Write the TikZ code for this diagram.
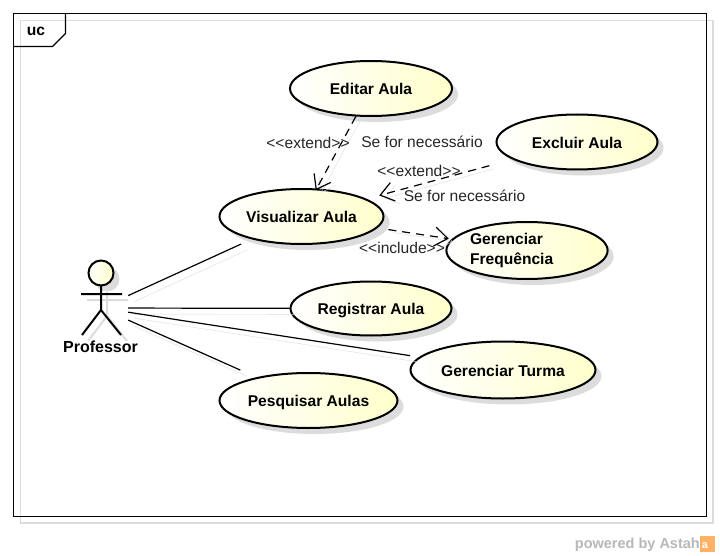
\documentclass[tikz,border=0pt]{standalone}
\usepackage{fontspec}
\setmainfont{Liberation Sans}
\usetikzlibrary{arrows.meta,shapes.geometric,shadows}
\definecolor{ucyellow}{HTML}{FFFFCC}
\definecolor{ucshadow}{HTML}{DCDCDC}
\tikzset{
  usecase/.style={ellipse,draw=black,line width=2pt,inner sep=0pt,left color=white,right color=ucyellow,
    font=\fontsize{15.6}{20}\selectfont\bfseries,text height=12.5pt,text depth=0pt,
    drop shadow={shadow xshift=6pt,shadow yshift=-6pt,fill=ucshadow,opacity=1}},
  steplabel/.style={font=\fontsize{15.6}{17}\selectfont,inner sep=0pt,text=black!85},
  assoc/.style={line width=1.2pt,preaction={draw=ucshadow,transform canvas={shift={(6pt,-6pt)}}}},
  relation/.style={line width=1.2pt,dash pattern=on 8pt off 6pt,-{Straight Barb[length=13pt,width=19pt,line width=1.2pt]},
    preaction={draw=ucshadow,solid,transform canvas={shift={(5pt,-3pt)}}}},
}
\begin{document}
\begin{tikzpicture}[x=1pt,y=-1pt]
\useasboundingbox (0,0) rectangle (720,556);
\fill[white] (0,0) rectangle (720,556);
% frame
\draw[ucshadow,line width=1.2pt] (20.5,20.5) rectangle (713,523);
\draw[line width=1.2pt] (13.5,13.5) rectangle (706.5,516.5);
\draw[line width=1.2pt] (13.5,46.5) -- (52.5,46.5) -- (65.5,33.5) -- (65.5,13.5);
\node[font=\fontsize{15.6}{17}\selectfont\bfseries,inner sep=0pt] (frametag) at (36,31.5) {uc};
% use cases
\node[usecase,minimum width=162pt,minimum height=55pt] (editar) at (371,88.5) {Editar Aula};
\node[usecase,minimum width=164pt,minimum height=55pt] (visualizar) at (301.5,216.5) {Visualizar Aula};
\node[usecase,minimum width=161pt,minimum height=55pt] (excluir) at (577,142) {Excluir Aula};
\node[usecase,minimum width=161pt,minimum height=57pt,text width=114pt,align=left,text height=,text depth=] (frequencia) at (527,250.5) {Gerenciar\\Frequência};
\node[usecase,minimum width=161pt,minimum height=54pt] (registrar) at (371,308.5) {Registrar Aula};
\node[usecase,minimum width=185pt,minimum height=57pt] (turma) at (503,370) {Gerenciar Turma};
\node[usecase,minimum width=178pt,minimum height=55pt] (pesquisar) at (308.5,400.5) {Pesquisar Aulas};
% actor
\node[minimum width=54pt,minimum height=60pt,inner sep=0pt] (professor) at (101,308) {};
\node[font=\fontsize{16}{17}\selectfont\bfseries,inner sep=0pt] (professorlabel) at (100.5,346.5) {Professor};
\begin{scope}[xshift=6pt,yshift=-6pt,draw=ucshadow,line width=2pt]
\fill[ucshadow] (101,273) circle (12.5);
\draw[ucshadow] (81,294) -- (122,294) (101,286) -- (101,310) -- (82,335) (101,310) -- (121,335);
\end{scope}
\draw[line width=2pt,left color=white,right color=ucyellow] (101,273) circle (12.5);
\draw[line width=2pt] (81,294) -- (122,294) (101,286) -- (101,310) -- (82,335) (101,310) -- (121,335);
% associations
\draw[assoc,shorten >=11.5pt] (professor) -- (visualizar);
\draw[assoc] (professor) -- (registrar);
\draw[assoc,shorten >=9pt] (professor) -- (turma);
\draw[assoc,shorten >=17.5pt] (professor) -- (pesquisar);
% extend and include
\draw[relation,shorten >=-2pt] (editar) -- (visualizar);
\draw[relation,shorten <=24pt,shorten >=13pt] (excluir) -- (visualizar);
\draw[relation,shorten <=11pt,shorten >=3pt] (visualizar) -- (frequencia);
\node[steplabel] (extendeditar) at (308,142.5) {{<}{<}extend{>}{>}};
\node[steplabel] (necessarioeditar) at (422,142) {Se for necessário};
\node[steplabel] (extendexcluir) at (419,171) {{<}{<}extend{>}{>}};
\node[steplabel] (necessarioexcluir) at (464.5,196) {Se for necessário};
\node[steplabel] (include) at (402,247.5) {{<}{<}include{>}{>}};
% logo
\node[font=\fontsize{14.5}{17}\selectfont\bfseries,text=black!28,inner sep=0pt,anchor=east] (powered) at (700,544.5) {powered by Astah};
\fill[orange!60] (700,536) rectangle (715,552);
\node[font=\fontsize{11}{11}\selectfont\bfseries,text=white,inner sep=0pt] (logo) at (705,546) {a};
\end{tikzpicture}
\end{document}
